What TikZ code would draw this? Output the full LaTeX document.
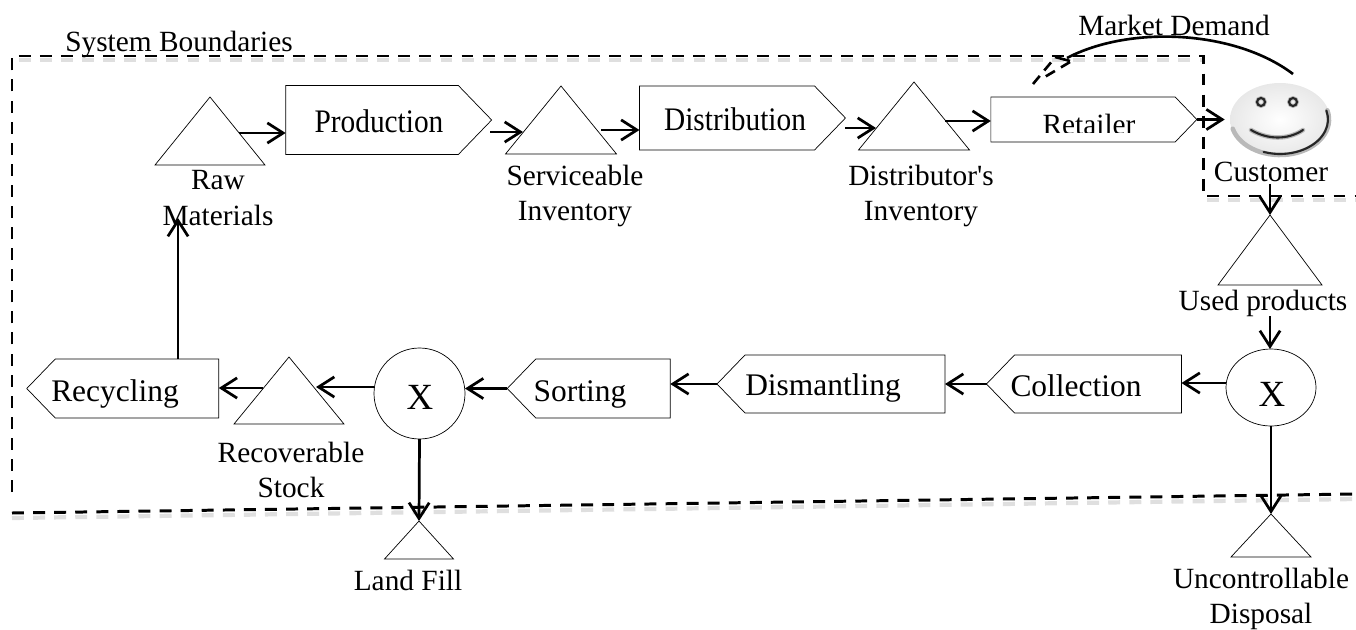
\documentclass[tikz,border=0pt]{standalone}
\usepackage{fontspec}
\setmainfont{Liberation Serif}
\usetikzlibrary{arrows.meta,shapes.geometric,shapes.symbols,calc}

\begin{document}
\begin{tikzpicture}[x=0.02cm,y=-0.02cm,
  font={\fontsize{16.7pt}{20.2pt}\selectfont},
  flow/.style={line width=1.55pt,arrows={-{Straight Barb[width=11.5pt,length=9pt,line width=1.55pt]}}},
  boundary/.style={line width=1.7pt,dash pattern=on 6.8pt off 5.2pt},
  boundshadow/.style={line width=2.4pt,gray!25,dash pattern=on 6.8pt off 5.2pt},
  stock/.style={draw,thin,isosceles triangle,isosceles triangle stretches,shape border rotate=90,
    inner sep=0,outer sep=0,anchor=apex},
  process/.style={draw,thin,signal,signal to=east,signal pointer angle=92,inner sep=0,outer sep=0},
  backprocess/.style={process,signal to=west},
  decide/.style={draw,thin,ellipse,inner sep=0,outer sep=0},
  bigx/.style={font={\fontsize{21pt}{24pt}\selectfont},inner sep=0},
  lbl/.style={align=center,inner sep=0},
  toplbl/.style={lbl,yscale=1.12,transform shape},
  backlbl/.style={lbl,font={\fontsize{17.9pt}{20pt}\selectfont}},
  faceglow/.style={gray!55,line width=2.6pt,line cap=round},
  faceline/.style={black!85,line width=1.2pt,line cap=round}
  ]
  \useasboundingbox (0,0) rectangle (1356,629);

  % boundary
  \draw[boundshadow,dash phase=8.1pt] (12,60) -- (1203,60);
  \draw[boundshadow,dash phase=9.5pt] (1203,200) -- (1356,200);
  \draw[boundshadow] (12,518) -- (1356,499);
  \draw[boundary] (12,492) -- (12,56) -- (1203,56) -- (1203,196) -- (1356,196);
  \draw[boundary] (12,513) -- (1356,494);

  % top row
  \node[stock,minimum width=110*0.02cm,minimum height=68*0.02cm] (rawmat) at (210,97) {};
  \node[process,minimum width=206*0.02cm,minimum height=69*0.02cm] (production) at (372,120) {};
  \node[stock,minimum width=111*0.02cm,minimum height=68*0.02cm] (servinv) at (561,86) {};
  \node[process,minimum width=206*0.02cm,minimum height=64*0.02cm] (distribution) at (727,118) {};
  \node[stock,minimum width=111*0.02cm,minimum height=68*0.02cm] (distinv) at (914,82) {};
  \node[process,minimum width=206*0.02cm,minimum height=45*0.02cm] (retailer) at (1083,119.5) {};
  \begin{scope}
    \clip (1000,100) rectangle (1170,132);
    \node[lbl] (retailertxt) at (1089,124) {Retailer};
  \end{scope}

  % smiley
  \node[ellipse,minimum width=100*0.02cm,minimum height=73*0.02cm,inner sep=0,
    inner color=white,outer color=gray!18] (face) at (1280,119.5) {};
  \draw[faceglow] (face.center) ++(195:0.98cm and 0.71cm) arc[start angle=195,end angle=375,x radius=0.98cm,y radius=0.71cm];
  \draw[faceline] (face.center) ++(250:0.96cm and 0.69cm) arc[start angle=250,end angle=375,x radius=0.96cm,y radius=0.69cm];
  \draw[faceglow,line width=2.2pt] (1261,102) circle (4);
  \draw[faceglow,line width=2.2pt] (1293,102) circle (4);
  \draw[faceline] (1261,102) circle (4);
  \draw[faceline] (1293,102) circle (4);
  \draw[faceglow] (1251,130) .. controls (1268,140) and (1288,140) .. (1303,130);
  \draw[faceline] (1251,130) .. controls (1268,140) and (1288,140) .. (1303,130);

  \node[toplbl] at (379,121) (prodlbl) {Production};
  \node[toplbl] at (735,119) (distrlbl) {Distribution};
  \node[lbl] (rawlbl) at (218,198) {Raw\\Materials};
  \node[lbl] (servlbl) at (575,196) {Serviceable\\Inventory};
  \node[lbl] (distlbl) at (921,196) {Distributor\textquotesingle s\\Inventory};
  \node[lbl] (custlbl) at (1271,172) {Customer};
  \node[lbl] (marketlbl) at (1174,25) {Market Demand};
  \node[lbl] (syslbl) at (179,44) {System Boundaries};

  % right column
  \node[stock,minimum width=104*0.02cm,minimum height=70*0.02cm] (usedprod) at (1270,215) {};
  \node[lbl] (usedlbl) at (1263,303) {Used products};
  \node[decide,minimum width=90*0.02cm,minimum height=77*0.02cm] (splitright) at (1271,387.5) {};
  \node[bigx] (xright) at (1272,394) {X};
  \node[stock,minimum width=80*0.02cm,minimum height=43*0.02cm] (uncontrol) at (1271,514) {};
  \node[lbl] (uncontlbl) at (1261,599) {Uncontrollable\\Disposal};

  % bottom row
  \node[backprocess,minimum width=195*0.02cm,minimum height=58*0.02cm] (collection) at (1098,384) {};
  \node[backlbl] (colllbl) at (1076,386) {Collection};
  \node[backprocess,minimum width=228*0.02cm,minimum height=58*0.02cm] (dismantling) at (845,384) {};
  \node[backlbl] (dismlbl) at (823,388) {Dismantling};
  \node[backprocess,minimum width=163*0.02cm,minimum height=59*0.02cm] (sorting) at (603,388.5) {};
  \node[backlbl] (sortlbl) at (580,394) {Sorting};
  \node[decide,minimum width=91*0.02cm,minimum height=91*0.02cm] (splitleft) at (419.5,393.5) {};
  \node[bigx] (xleft) at (420,397) {X};
  \node[stock,minimum width=110*0.02cm,minimum height=67*0.02cm] (recstock) at (289,357) {};
  \node[backprocess,minimum width=192*0.02cm,minimum height=59*0.02cm] (recycling) at (137,388.5) {};
  \node[backlbl] (recylbl) at (115,394) {Recycling};
  \node[lbl] (reclbl) at (291,470) {Recoverable\\Stock};
  \node[stock,minimum width=69*0.02cm,minimum height=38*0.02cm] (landfill) at (419,521) {};
  \node[lbl] (landlbl) at (408,580) {Land Fill};

  % flows
  \coordinate (rawout) at (239,133);
  \draw[flow] (rawout) -- (rawout -| production.west);
  \coordinate (prodout) at (490,132);
  \coordinate (servin) at (523,132);
  \draw[flow] (prodout) -- (servin);
  \coordinate (servout) at (601,130);
  \draw[flow] (servout) -- (servout -| distribution.west);
  \coordinate (distout) at (845,128);
  \coordinate (distin) at (876,128);
  \draw[flow] (distout) -- (distin);
  \coordinate (invout) at (945,121);
  \draw[flow] (invout) -- (invout -| retailer.west);
  \draw[flow,shorten >=2.8pt] (retailer.east) -- (retailer.east -| face.west);
  \coordinate (custout) at (1270,184);
  \draw[flow] (custout) -- (usedprod.apex);
  \coordinate (usedout) at (1270,316);
  \draw[flow] (usedout) -- (usedout |- splitright.north);
  \coordinate (splitrout) at (1226,383);
  \draw[flow] (splitrout) -- (splitrout -| collection.east);
  \draw[flow] (collection.west) -- (collection.west -| dismantling.east);
  \draw[flow] (dismantling.west) -- (dismantling.west -| sorting.east);
  \draw[flow] (sorting.west) -- (sorting.west -| splitleft.east);
  \coordinate (splitlout) at (374,387);
  \coordinate (stockin) at (316,387);
  \draw[flow] (splitlout) -- (stockin);
  \coordinate (stockout) at (263,388);
  \draw[flow] (stockout) -- (stockout -| recycling.east);
  \coordinate (recyout) at (178,359);
  \coordinate (rawin) at (178,218);
  \draw[flow] (recyout) -- (rawin);
  \draw[flow] (splitleft.south) -- (landfill.apex);
  \draw[flow] (splitright.south) -- (uncontrol.apex);

  % market demand
  \coordinate (demandstart) at (1293,74);
  \coordinate (demandturn) at (1067,58);
  \coordinate (demandend) at (1033,84);
  \draw[line width=1.5pt] (demandstart) .. controls (1235,30) and (1130,25) .. (demandturn);
  \draw[line width=1.5pt,dash pattern=on 6pt off 4pt] (demandend) -- (1053,60);
  \draw[line width=1.5pt] (1055,57) -- (1070,61);
  \draw[line width=1.5pt,dash pattern=on 6pt off 4pt] (1070,62) -- (1043,78);
\end{tikzpicture}
\end{document}
